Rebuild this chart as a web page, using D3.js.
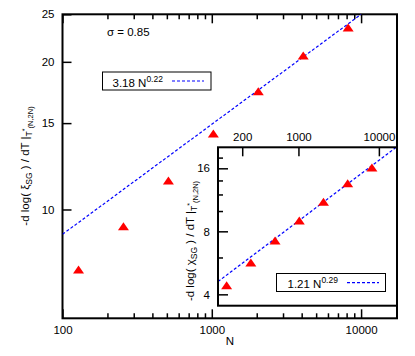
<!DOCTYPE html>
<html>
<head>
<meta charset="utf-8">
<script src="https://cdn.jsdelivr.net/npm/d3@7"></script>
<style>
body { margin: 0; background: #fff; }
text { font-family: "Liberation Sans", Arial, sans-serif; fill: #000; }
</style>
</head>
<body>
<div id="chart"></div>
<script>
// system sizes and the two measured slopes
const sizesN = [128, 256, 512, 1024, 2048, 4096, 8192];
const xiSlope = [7.53, 9.22, 11.43, 14.25, 17.38, 20.56, 23.45];
const chiSlope = [4.40, 5.65, 7.19, 8.96, 11.02, 13.49, 16.07];

// fitted power laws, end points as drawn
const fitMainN = [100, 10000];
const fitMainV = [8.9, 25];
const fitInsetN = [100, 16800];
const fitInsetV = [4.6, 20.3];

// ticks
const mainXTicks = [100, 1000, 10000];
const mainXMinor = [200, 300, 400, 500, 600, 700, 800, 900, 2000, 3000, 4000, 5000, 6000, 7000, 8000, 9000];
const mainYTicks = [10, 15, 20, 25];
const insetXTicks = [200, 1000, 10000];
const insetYTicks = [4, 8, 16];
const insetYMinor = [6, 10, 12, 14, 18];

const FONT = '"Liberation Sans", Arial, sans-serif';

let svg = d3.select("#chart")
	.append("svg")
	.attr("width", 415)
	.attr("height", 356);

svg.append("rect").attr("width", 415).attr("height", 356).attr("fill", "#fff");

let x = d3.scaleLog().domain([100, 17400]).range([62.5, 397]);
let y = d3.scaleLog().domain([6, 25]).range([318.3, 14.3]);

let xi = d3.scaleLog().domain([100, 16800]).range([218, 397]);
let yi = d3.scaleLog().domain([3.53, 20.16]).range([305.7, 147.3]);

function tidy(g) {
	g.select(".domain").remove();
	g.attr("font-family", FONT).attr("font-size", 11.5);
	g.selectAll("line").attr("stroke", "#000").attr("stroke-width", 1.5);
	g.selectAll("text").attr("fill", "#000");
}

// triangle marker, apex up
const tri = "M0,-4.5L5.5,3.5L-5.5,3.5Z";

// text with sub/superscripts, parts = [text, kind]
function richText(sel, parts) {
	let shift = 0;
	parts.forEach(function (p) {
		let target = 0, size = 11.5;
		if (p[1] == "sub") { target = 3; size = 8.5; }
		if (p[1] == "sup") { target = -5; size = 8.5; }
		if (p[1] == "star") { target = -2; size = 7; }
		if (p[1] == "small") { target = 4; size = 7.5; }
		sel.append("tspan")
			.attr("dy", target - shift)
			.attr("font-size", size)
			.text(p[0]);
		shift = target;
	});
}

// ---------- main panel ----------
svg.append("clipPath").attr("id", "clipMain")
	.append("rect").attr("x", 62.5).attr("y", 14.3).attr("width", 334.5).attr("height", 304);

svg.append("g").attr("transform", "translate(0," + y.range()[0] + ")")
	.call(d3.axisBottom(x).tickValues(mainXTicks).tickSizeInner(-9).tickSizeOuter(0)
		.tickPadding(8).tickFormat(d3.format("d")))
	.call(tidy);
svg.append("g").attr("transform", "translate(0," + y.range()[0] + ")")
	.call(d3.axisBottom(x).tickValues(mainXMinor).tickSize(-5).tickFormat(""))
	.call(tidy);
svg.append("g").attr("transform", "translate(0," + y.range()[1] + ")")
	.call(d3.axisTop(x).tickValues(mainXTicks).tickSize(-9).tickFormat(""))
	.call(tidy);
svg.append("g").attr("transform", "translate(0," + y.range()[1] + ")")
	.call(d3.axisTop(x).tickValues(mainXMinor).tickSize(-5).tickFormat(""))
	.call(tidy);
svg.append("g").attr("transform", "translate(" + x.range()[0] + ",0)")
	.call(d3.axisLeft(y).tickValues(mainYTicks).tickSizeInner(-9).tickSizeOuter(0)
		.tickPadding(8).tickFormat(d3.format("d")))
	.call(tidy);

svg.append("rect")
	.attr("x", 62.5).attr("y", 14.3).attr("width", 334.5).attr("height", 304)
	.attr("fill", "none").attr("stroke", "#000").attr("stroke-width", 2);

let mainFit = fitMainN.map(function (n, i) { return [n, fitMainV[i]]; });
svg.append("path")
	.datum(mainFit)
	.attr("clip-path", "url(#clipMain)")
	.attr("d", d3.line().x(function (d) { return x(d[0]); }).y(function (d) { return y(d[1]); }))
	.attr("fill", "none").attr("stroke", "#0000ff").attr("stroke-width", 1.2)
	.attr("stroke-dasharray", "3,2");

svg.selectAll(".ptMain")
	.data(sizesN.map(function (n, i) { return [n, xiSlope[i]]; }))
	.enter().append("path")
	.attr("class", "ptMain")
	.attr("d", tri)
	.attr("transform", function (d) { return "translate(" + x(d[0]) + "," + y(d[1]) + ")"; })
	.attr("fill", "#ff0000");

svg.append("text").attr("x", 107).attr("y", 36).attr("font-size", 11.5).text("σ = 0.85");

// main legend
svg.append("rect").attr("x", 102.5).attr("y", 72).attr("width", 108.5).attr("height", 18)
	.attr("fill", "#fff").attr("stroke", "#000").attr("stroke-width", 1);
richText(svg.append("text").attr("x", 112.5).attr("y", 87.3), [["3.18 N", "n"], ["0.22", "sup"]]);
svg.append("line").attr("x1", 172).attr("x2", 204).attr("y1", 81).attr("y2", 81)
	.attr("stroke", "#0000ff").attr("stroke-width", 1.2).attr("stroke-dasharray", "3,2");

// axis labels
svg.append("text").attr("x", 230).attr("y", 345).attr("text-anchor", "middle")
	.attr("font-size", 11.5).text("N");
richText(svg.append("text").attr("transform", "translate(29,166) rotate(-90)").attr("text-anchor", "middle"),
	[["-d log( ξ", "n"], ["SG", "sub"], [" ) / dT |", "n"], ["T", "sub"], ["*", "star"], ["(N,2N)", "small"]]);

// ---------- inset ----------
svg.append("rect")
	.attr("x", 218).attr("y", 147.3).attr("width", 179).attr("height", 158.4)
	.attr("fill", "#fff");
svg.append("clipPath").attr("id", "clipInset")
	.append("rect").attr("x", 218).attr("y", 147.3).attr("width", 179).attr("height", 158.4);

svg.append("g").attr("transform", "translate(0," + yi.range()[1] + ")")
	.call(d3.axisTop(xi).tickValues(insetXTicks).tickSizeInner(-9).tickSizeOuter(0)
		.tickPadding(6).tickFormat(d3.format("d")))
	.call(tidy);
svg.append("g").attr("transform", "translate(" + xi.range()[0] + ",0)")
	.call(d3.axisLeft(yi).tickValues(insetYTicks).tickSizeInner(-10).tickSizeOuter(0)
		.tickPadding(8).tickFormat(d3.format("d")))
	.call(tidy);
svg.append("g").attr("transform", "translate(" + xi.range()[0] + ",0)")
	.call(d3.axisLeft(yi).tickValues(insetYMinor).tickSize(-5).tickFormat(""))
	.call(tidy);

let insetFit = fitInsetN.map(function (n, i) { return [n, fitInsetV[i]]; });
svg.append("path")
	.datum(insetFit)
	.attr("clip-path", "url(#clipInset)")
	.attr("d", d3.line().x(function (d) { return xi(d[0]); }).y(function (d) { return yi(d[1]); }))
	.attr("fill", "none").attr("stroke", "#0000ff").attr("stroke-width", 1.2)
	.attr("stroke-dasharray", "3,2");

svg.selectAll(".ptInset")
	.data(sizesN.map(function (n, i) { return [n, chiSlope[i]]; }))
	.enter().append("path")
	.attr("class", "ptInset")
	.attr("d", tri)
	.attr("transform", function (d) { return "translate(" + xi(d[0]) + "," + yi(d[1]) + ")"; })
	.attr("fill", "#ff0000");

// inset legend
svg.append("rect").attr("x", 276.5).attr("y", 273.5).attr("width", 109).attr("height", 18)
	.attr("fill", "#fff").attr("stroke", "#000").attr("stroke-width", 1);
richText(svg.append("text").attr("x", 287.5).attr("y", 288), [["1.21 N", "n"], ["0.29", "sup"]]);
svg.append("line").attr("x1", 347).attr("x2", 379).attr("y1", 282.7).attr("y2", 282.7)
	.attr("stroke", "#0000ff").attr("stroke-width", 1.2).attr("stroke-dasharray", "3,2");

svg.append("rect")
	.attr("x", 218).attr("y", 147.3).attr("width", 179).attr("height", 158.4)
	.attr("fill", "none").attr("stroke", "#000").attr("stroke-width", 2);

richText(svg.append("text").attr("transform", "translate(194,241) rotate(-90)").attr("text-anchor", "middle"),
	[["-d log( χ", "n"], ["SG", "sub"], [" ) / dT |", "n"], ["T", "sub"], ["*", "star"], ["(N,2N)", "small"]]);
</script>
</body>
</html>
